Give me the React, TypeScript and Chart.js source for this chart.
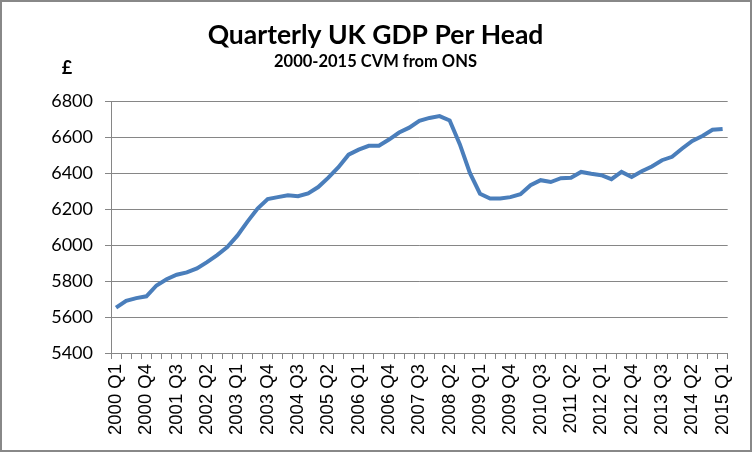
import React, { useEffect, useRef } from "react";
import { Chart, registerables } from "chart.js";

Chart.register(...registerables);

const quarters: string[] = [];
for (let y = 2000; y <= 2015; y++) {
  for (let q = 1; q <= 4; q++) {
    if (y === 2015 && q > 1) break;
    quarters.push(`${y} Q${q}`);
  }
}

const gdpPerHead: number[] = [
  5652, 5690, 5705, 5715, 5775, 5810, 5835, 5848, 5870, 5905,
  5944, 5988, 6052, 6130, 6202, 6255, 6266, 6276, 6271, 6287,
  6322, 6374, 6432, 6502, 6530, 6551, 6551, 6586, 6625, 6652,
  6690, 6706, 6716, 6692, 6560, 6400, 6285, 6258, 6258, 6266,
  6282, 6332, 6360, 6350, 6371, 6374, 6406, 6396, 6388, 6366,
  6406, 6378, 6410, 6436, 6471, 6490, 6536, 6578, 6606, 6640,
  6645,
];

const yTicks: number[] = [5400, 5600, 5800, 6000, 6200, 6400, 6600, 6800];

const titleText = "Quarterly UK GDP Per Head";
const subtitleText = "2000-2015 CVM from ONS";
const unitText = "£";

const GRID = "#868686";

export default function App() {
  const ref = useRef<HTMLCanvasElement | null>(null);

  useEffect(() => {
    if (!ref.current) return;
    const textPlugin = {
      id: "headerText",
      afterDraw(chart: any) {
        const ctx = chart.ctx;
        ctx.save();
        ctx.fillStyle = "#000";
        ctx.textAlign = "center";
        ctx.textBaseline = "middle";
        ctx.font = "bold 26.5px Lato";
        ctx.fillText(titleText, 373.5, 33);
        ctx.font = "bold 16.5px Lato";
        ctx.fillText(subtitleText, 373.5, 60);
        ctx.font = "bold 18px Lato";
        ctx.fillText(unitText, 65, 66);
        ctx.restore();
      },
    };
    const chart = new Chart(ref.current, {
      type: "line",
      data: {
        labels: quarters,
        datasets: [
          {
            data: gdpPerHead,
            borderColor: "#4A7EBB",
            borderWidth: 4,
            pointRadius: 0,
            tension: 0,
            fill: false,
          },
        ],
      },
      options: {
        animation: false,
        responsive: false,
        devicePixelRatio: 1,
        layout: { padding: { top: 99, right: 21, bottom: 0, left: 0 } },
        plugins: {
          legend: { display: false },
          tooltip: { enabled: false },
          title: { display: false },
        },
        scales: {
          x: {
            type: "category",
            offset: true,
            grid: {
              display: true,
              offset: true,
              drawOnChartArea: false,
              drawTicks: true,
              tickLength: 6,
              color: GRID,
            },
            border: { display: true, color: GRID, width: 1 },
            ticks: {
              autoSkip: false,
              maxRotation: 90,
              minRotation: 90,
              padding: 5,
              color: "#000",
              font: { family: "Liberation Sans", size: 18.5 },
              callback: (_v: any, i: number) => (i % 3 === 0 ? quarters[i] : ""),
            },
            afterFit: (s: any) => {
              s.height = 97;
            },
          },
          y: {
            min: 5400,
            max: 6800,
            afterBuildTicks: (s: any) => {
              s.ticks = yTicks.map((v) => ({ value: v }));
            },
            grid: {
              color: GRID,
              drawTicks: true,
              tickLength: 6,
            },
            border: { display: true, color: GRID, width: 1 },
            ticks: {
              padding: 12,
              color: "#000",
              font: { family: "Lato", size: 18 },
              callback: (v: any) => String(v),
            },
            afterFit: (s: any) => {
              s.width = 109;
            },
          },
        },
      },
      plugins: [textPlugin],
    });
    return () => chart.destroy();
  }, []);

  return (
    <div
      style={{
        position: "absolute",
        left: 0,
        top: 0,
        width: 752,
        height: 452,
        border: "2px solid #888888",
        boxSizing: "border-box",
        background: "#fff",
      }}
    >
      <canvas ref={ref} width={748} height={448} style={{ display: "block", width: 748, height: 448 }} />
    </div>
  );
}
